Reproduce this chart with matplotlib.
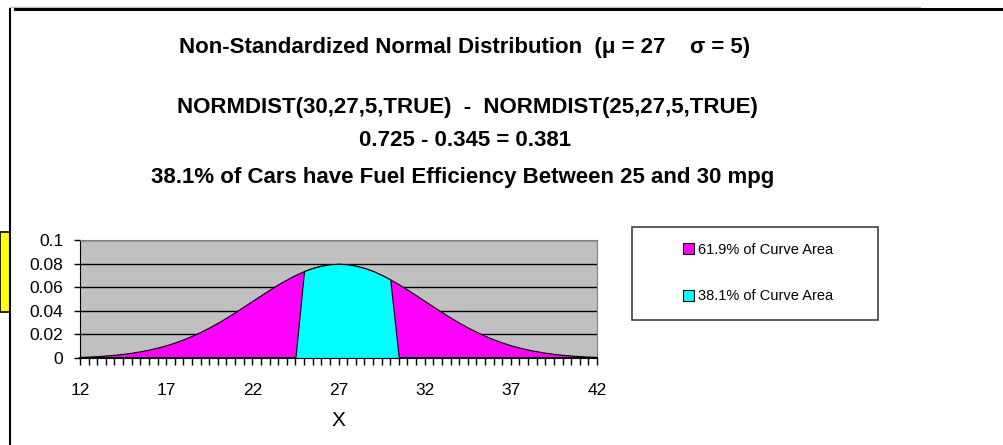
import matplotlib
matplotlib.use('Agg')
import matplotlib.pyplot as plt
from matplotlib.patches import Rectangle, Patch
from matplotlib.lines import Line2D

# Categories (x) and curve heights
x_values = [12, 12.5, 13, 13.5, 14, 14.5, 15, 15.5, 16, 16.5,
            17, 17.5, 18, 18.5, 19, 19.5, 20, 20.5, 21, 21.5,
            22, 22.5, 23, 23.5, 24, 24.5, 25, 25.5, 26, 26.5,
            27, 27.5, 28, 28.5, 29, 29.5, 30, 30.5, 31, 31.5,
            32, 32.5, 33, 33.5, 34, 34.5, 35, 35.5, 36, 36.5,
            37, 37.5, 38, 38.5, 39, 39.5, 40, 40.5, 41, 41.5, 42]
curve_all = [0.0009, 0.0012, 0.0016, 0.0021, 0.0027, 0.0035, 0.0045, 0.0057, 0.0071, 0.0088,
             0.0108, 0.0131, 0.0158, 0.0188, 0.0222, 0.0259, 0.0299, 0.0343, 0.0388, 0.0436,
             0.0484, 0.0532, 0.0579, 0.0625, 0.0666, 0.0704, 0.0737, 0.0763, 0.0782, 0.0794,
             0.0798, 0.0794, 0.0782, 0.0763, 0.0737, 0.0704, 0.0666, 0.0625, 0.0579, 0.0532,
             0.0484, 0.0436, 0.0388, 0.0343, 0.0299, 0.0259, 0.0222, 0.0188, 0.0158, 0.0131,
             0.0108, 0.0088, 0.0071, 0.0057, 0.0045, 0.0035, 0.0027, 0.0021, 0.0016, 0.0012, 0.0009]
curve_mid = [0] * 26 + [0.0737, 0.0763, 0.0782, 0.0794, 0.0798, 0.0794, 0.0782, 0.0763,
                        0.0737, 0.0704, 0.0666] + [0] * 24
labels = ['61.9% of Curve Area', '38.1% of Curve Area']
colors = ['#FF00FF', '#00FFFF']
x_ticks = [12, 17, 22, 27, 32, 37, 42]
y_ticks = [0, 0.02, 0.04, 0.06, 0.08, 0.1]
y_ticklabels = ['0', '0.02', '0.04', '0.06', '0.08', '0.1']

plt.rcParams['font.family'] = ['Liberation Sans', 'DejaVu Sans']

W, H = 1004, 445
fig = plt.figure(figsize=(W / 100, H / 100), dpi=100)

def fx(px):
    return px / W

def fy(py):
    return 1 - py / H

# Sheet decorations (cell borders around the chart)
fig.add_artist(Line2D([fx(10), fx(920)], [fy(6.5), fy(6.5)], color='#C0C0C0', lw=1))
fig.add_artist(Line2D([fx(15), 1], [fy(9), fy(9)], color='black', lw=2.2))
fig.add_artist(Line2D([fx(10.5), fx(10.5)], [fy(9), 0], color='black', lw=1.5))
fig.add_artist(Rectangle((0, fy(312)), fx(10), fy(232) - fy(312), facecolor='#FFFF00',
                         edgecolor='black', lw=1.2))

# Titles
title_font = dict(ha='center', va='center', fontsize=16, fontweight='bold')
fig.text(fx(465), fy(47), 'Non-Standardized Normal Distribution  (\u03bc = 27    \u03c3 = 5)', **title_font)
fig.text(fx(467), fy(108), 'NORMDIST(30,27,5,TRUE)  -  NORMDIST(25,27,5,TRUE)', **title_font)
fig.text(fx(465), fy(140), '0.725 - 0.345 = 0.381', **title_font)
fig.text(fx(463), fy(178), '38.1% of Cars have Fuel Efficiency Between 25 and 30 mpg', **title_font)

# Plot area
ax = fig.add_axes([fx(80), fy(358), fx(597) - fx(80), fy(240) - fy(358)])
ax.set_facecolor('#C0C0C0')
for y in y_ticks[1:]:
    ax.axhline(y, color='black', lw=1, zorder=1)
ax.fill_between(x_values, curve_all, 0, facecolor=colors[0], edgecolor='black', lw=0.8, zorder=2)
ax.fill_between(x_values, curve_mid, 0, facecolor=colors[1], edgecolor='black', lw=0.8, zorder=3)

ax.set_xlim(12, 42)
ax.set_ylim(0, 0.1)
ax.set_xticks(x_ticks)
ax.set_xticks(x_values, minor=True)
ax.set_yticks(y_ticks)
ax.set_yticklabels(y_ticklabels)
ax.tick_params(axis='x', which='both', direction='out', length=5, width=1, labelsize=12.5, pad=13)
ax.tick_params(axis='y', which='both', direction='out', length=4, width=1, labelsize=12.5, pad=8)
ax.spines['left'].set_color('black')
ax.spines['bottom'].set_color('black')
ax.spines['bottom'].set_linewidth(1.5)
ax.spines['top'].set_color('#808080')
ax.spines['right'].set_color('#808080')
ax.set_xlabel('X', fontsize=15, labelpad=9)

# Legend box
fig.add_artist(Rectangle((fx(632), fy(320)), fx(878) - fx(632), fy(227) - fy(320),
                         facecolor='white', edgecolor='#404040', lw=1.2))
handles = [Patch(facecolor=c, edgecolor='black', lw=0.8) for c in colors]
fig.legend(handles, labels, loc='center', bbox_to_anchor=(fx(758), fy(273)),
           frameon=False, prop={'size': 10.5},
           handlelength=0.75, handleheight=0.75, handletextpad=0.25, labelspacing=2.25)

fig.savefig('out.png', dpi=100)
